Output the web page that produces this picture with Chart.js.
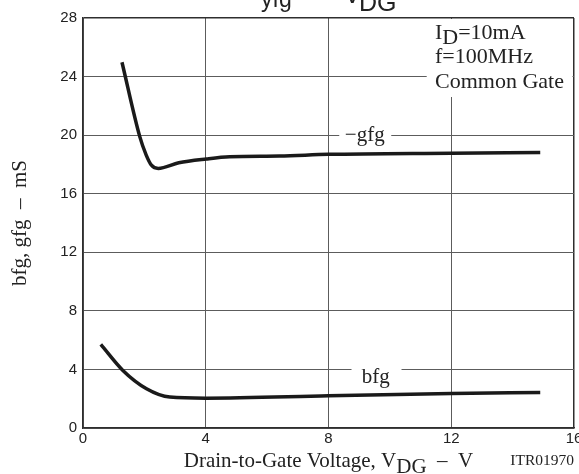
<!DOCTYPE html>
<html>
<head>
<meta charset="utf-8">
<script src="https://cdn.jsdelivr.net/npm/chart.js@4.4.0/dist/chart.umd.min.js"></script>
<style>
    html, body { margin: 0; padding: 0; background: #ffffff; }
</style>
</head>
<body>
<canvas id="yfg-chart" width="579" height="474"></canvas>
<script>
// values
const gfgVoltage = [1.27, 1.85, 2.06, 2.23, 2.45, 3.12, 4.02, 4.78, 6.4, 8.0, 12.0, 14.9];
const gfgValues  = [24.98, 19.9, 18.64, 17.95, 17.73, 18.11, 18.37, 18.52, 18.57, 18.69, 18.77, 18.82];

const bfgVoltage = [0.58, 1.3, 2.07, 2.83, 4.0, 8.0, 12.0, 14.9];
const bfgValues  = [5.71, 3.93, 2.68, 2.11, 2.04, 2.2, 2.36, 2.42];

const xTicks = [0, 4, 8, 12, 16];
const yTicks = [0, 4, 8, 12, 16, 20, 24, 28];

const serif = 'Liberation Serif';
const sans = 'Liberation Sans';

function toPoints(xs, ys) {
    return xs.map((x, i) => ({ x: x, y: ys[i] }));
}

// draws a run of text pieces, some of them lowered as subscripts
function drawRich(ctx, x, y, parts, align) {
    let total = 0;
    parts.forEach(p => {
        ctx.font = p.font;
        total += ctx.measureText(p.t).width;
    });
    let cx = x;
    if (align === 'center') cx = x - total / 2;
    if (align === 'right') cx = x - total;
    parts.forEach(p => {
        ctx.font = p.font;
        ctx.fillText(p.t, cx, y + (p.dy || 0));
        cx += ctx.measureText(p.t).width;
    });
}

const textPlugin = {
    id: 'textPlugin',
    afterDatasetsDraw(chart) {
        const ctx = chart.ctx;
        const area = chart.chartArea;
        const xs = chart.scales.x;
        const ys = chart.scales.y;
        ctx.save();
        ctx.textBaseline = 'alphabetic';
        ctx.textAlign = 'left';

        // white gaps behind the curve labels and the conditions box
        ctx.fillStyle = '#ffffff';
        ctx.fillRect(xs.getPixelForValue(8.35), ys.getPixelForValue(20) - 3, 52, 6);
        ctx.fillRect(xs.getPixelForValue(8.75), ys.getPixelForValue(4) - 3, 50, 6);
        ctx.fillRect(xs.getPixelForValue(11.2), area.top + 1, area.right - xs.getPixelForValue(11.2) - 1.5, 78);

        ctx.fillStyle = '#222222';
        const f21 = '21px "' + serif + '"';
        const f22 = '22px "' + serif + '"';
        drawRich(ctx, xs.getPixelForValue(9.18), 141, [{ t: '\u2212gfg', font: f21 }], 'center');
        drawRich(ctx, xs.getPixelForValue(9.54), 382.5, [{ t: 'bfg', font: f21 }], 'center');

        drawRich(ctx, 435, 38.5, [
            { t: 'I', font: f22 },
            { t: 'D', font: f22, dy: 5 },
            { t: '=10mA', font: f22 }
        ], 'left');
        drawRich(ctx, 435, 63, [{ t: 'f=100MHz', font: f22 }], 'left');
        drawRich(ctx, 435, 87.5, [{ t: 'Common Gate', font: f22 }], 'left');

        // x axis title
        drawRich(ctx, (area.left + area.right) / 2, 466.5, [
            { t: 'Drain-to-Gate Voltage, V', font: f21 },
            { t: 'DG', font: f21, dy: 6 },
            { t: '  \u2013  V', font: f21 }
        ], 'center');
        drawRich(ctx, area.right, 465, [{ t: 'ITR01970', font: '15.5px "' + serif + '"' }], 'right');

        // chart title, cut off at the top edge
        drawRich(ctx, 261, 7, [{ t: 'yfg', font: '23px "' + sans + '"' }], 'left');
        drawRich(ctx, 344, 3, [{ t: 'V', font: '25px "' + sans + '"' }], 'left');
        drawRich(ctx, 359, 11, [{ t: 'DG', font: '25px "' + sans + '"' }], 'left');
        ctx.restore();
    }
};

const edgeColor = '#2e2e2e';
const gridColor = '#5c5c5c';

new Chart(document.getElementById('yfg-chart').getContext('2d'), {
    type: 'line',
    data: {
        datasets: [
            {
                label: '-gfg',
                data: toPoints(gfgVoltage, gfgValues),
                borderColor: '#1a1a1a',
                borderWidth: 3.5,
                borderCapStyle: 'butt',
                pointRadius: 0,
                cubicInterpolationMode: 'monotone',
                fill: false
            },
            {
                label: 'bfg',
                data: toPoints(bfgVoltage, bfgValues),
                borderColor: '#1a1a1a',
                borderWidth: 3.5,
                borderCapStyle: 'butt',
                pointRadius: 0,
                cubicInterpolationMode: 'monotone',
                fill: false
            }
        ]
    },
    options: {
        responsive: false,
        animation: false,
        layout: { padding: { top: 18, right: 5, left: 0, bottom: 0 } },
        scales: {
            x: {
                type: 'linear',
                min: 0,
                max: 16,
                afterBuildTicks: scale => { scale.ticks = xTicks.map(v => ({ value: v })); },
                afterFit: scale => {
                    scale.height = 46;
                    scale.paddingLeft = 0;
                    scale.paddingRight = 0;
                },
                grid: {
                    drawTicks: false,
                    color: c => (c.tick && c.tick.value === 16) ? edgeColor : gridColor,
                    lineWidth: c => (c.tick && c.tick.value === 16) ? 1.5 : 1
                },
                border: { color: edgeColor, width: 1.5 },
                ticks: {
                    padding: 2,
                    color: '#222222',
                    maxRotation: 0,
                    font: { family: sans, size: 15 }
                }
            },
            y: {
                min: 0,
                max: 28,
                afterBuildTicks: scale => { scale.ticks = yTicks.map(v => ({ value: v })); },
                afterFit: scale => { scale.width = 83; },
                grid: {
                    drawTicks: false,
                    color: c => (c.tick && c.tick.value === 28) ? edgeColor : gridColor,
                    lineWidth: c => (c.tick && c.tick.value === 28) ? 1.5 : 1
                },
                border: { color: edgeColor, width: 1.5 },
                ticks: {
                    padding: 6,
                    color: '#222222',
                    font: { family: sans, size: 15 }
                },
                title: {
                    display: true,
                    text: 'bfg, gfg  \u2013  mS',
                    color: '#222222',
                    padding: { top: 8, bottom: 0 },
                    font: { family: serif, size: 21 }
                }
            }
        },
        plugins: {
            legend: { display: false },
            tooltip: { enabled: false }
        }
    },
    plugins: [textPlugin]
});
</script>
</body>
</html>
